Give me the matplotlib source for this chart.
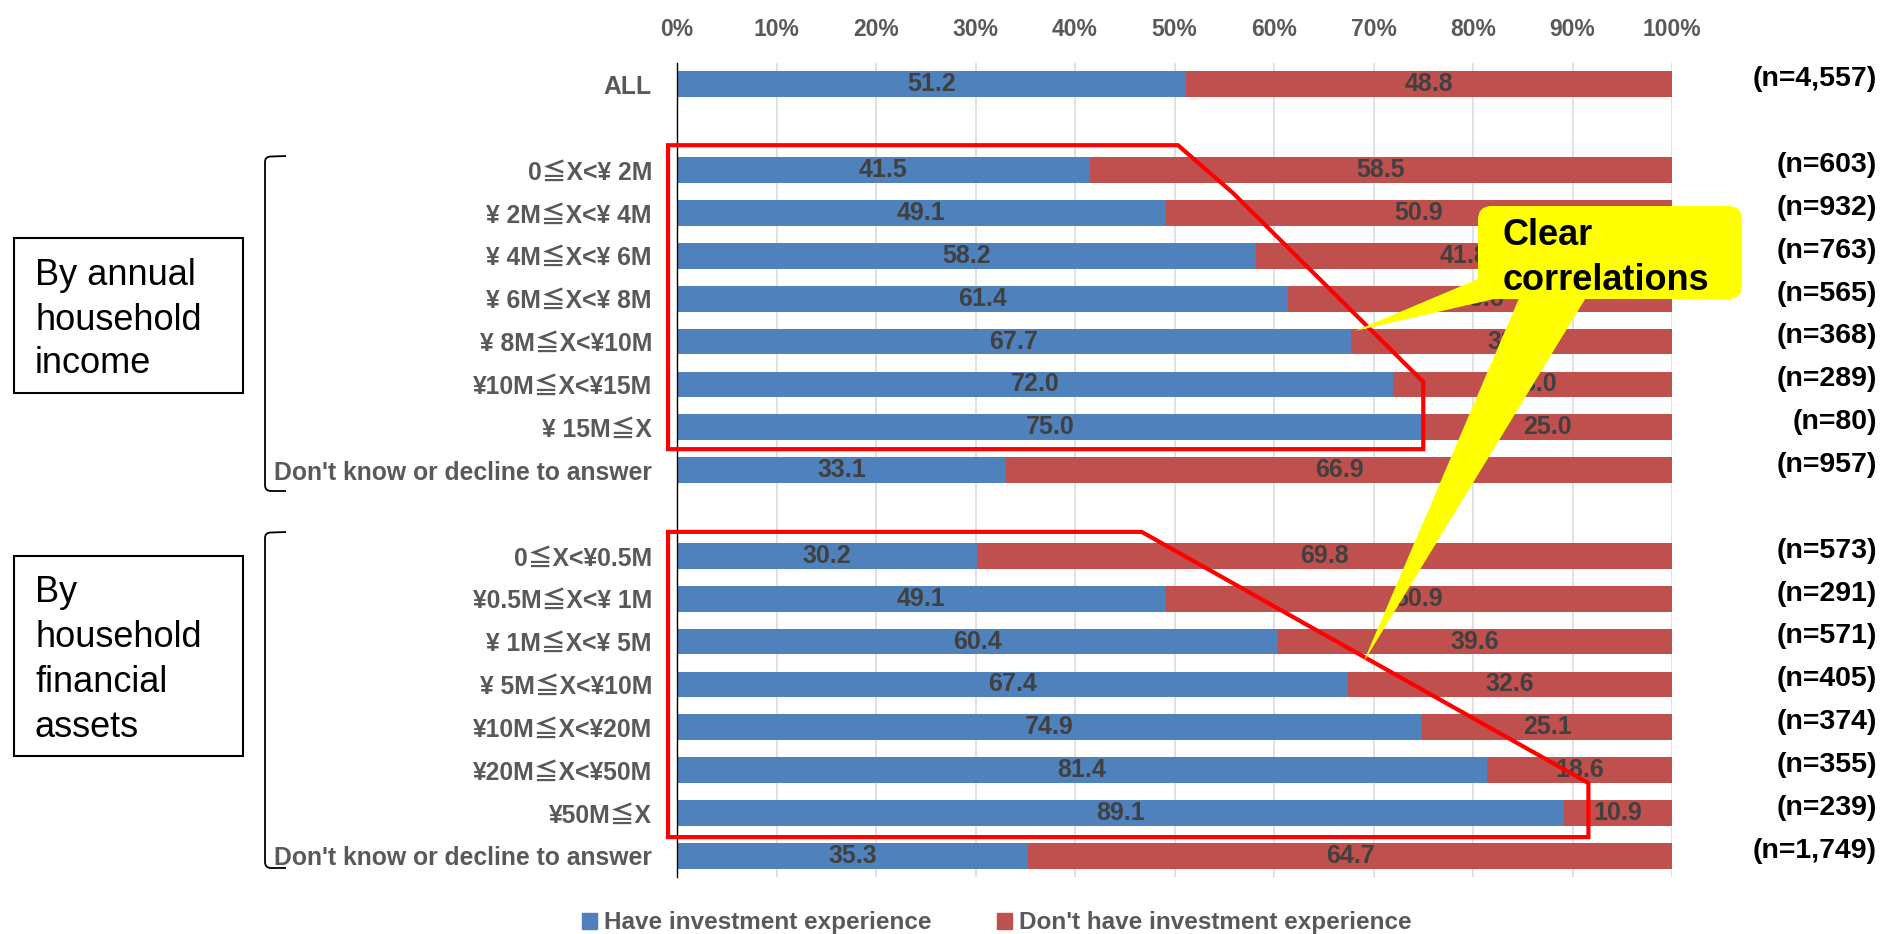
import matplotlib
matplotlib.use("Agg")
import matplotlib.pyplot as plt
import numpy as np
from matplotlib.patches import Patch, Polygon, FancyBboxPatch, PathPatch, Rectangle
from matplotlib.path import Path
from matplotlib.transforms import Affine2D, blended_transform_factory

# ---------------- data ----------------
categories = [
    "ALL", "",
    "0≦X<¥ 2M", "¥ 2M≦X<¥ 4M", "¥ 4M≦X<¥ 6M", "¥ 6M≦X<¥ 8M",
    "¥ 8M≦X<¥10M", "¥10M≦X<¥15M", "¥ 15M≦X", "Don't know or decline to answer",
    "",
    "0≦X<¥0.5M", "¥0.5M≦X<¥ 1M", "¥ 1M≦X<¥ 5M", "¥ 5M≦X<¥10M",
    "¥10M≦X<¥20M", "¥20M≦X<¥50M", "¥50M≦X", "Don't know or decline to answer",
]
have = [51.2, None, 41.5, 49.1, 58.2, 61.4, 67.7, 72.0, 75.0, 33.1,
        None, 30.2, 49.1, 60.4, 67.4, 74.9, 81.4, 89.1, 35.3]
dont = [48.8, None, 58.5, 50.9, 41.8, 38.6, 32.3, 28.0, 25.0, 66.9,
        None, 69.8, 50.9, 39.6, 32.6, 25.1, 18.6, 10.9, 64.7]
n_labels = ["(n=4,557)", "", "(n=603)", "(n=932)", "(n=763)", "(n=565)",
            "(n=368)", "(n=289)", "(n=80)", "(n=957)", "",
            "(n=573)", "(n=291)", "(n=571)", "(n=405)", "(n=374)",
            "(n=355)", "(n=239)", "(n=1,749)"]
ticks = [0, 10, 20, 30, 40, 50, 60, 70, 80, 90, 100]
tick_labels = [f"{t}%" for t in ticks]
series_names = ["Have investment experience", "Don't have investment experience"]

# outlines drawn around groups (x in %, y in row units)
income_outline = [(-0.9, 1.42), (50.35, 1.42), (55.9, 2.54), (75.0, 6.94),
                  (75.0, 8.51), (-0.9, 8.51)]
assets_outline = [(-0.9, 10.44), (46.7, 10.44), (91.6, 16.3), (91.6, 17.56),
                  (-0.9, 17.56)]

# ---------------- style ----------------
BLUE = "#4F81BD"
RED = "#C0504D"
GRAY = "#595959"
DARK = "#404040"
FONT = ["Liberation Sans", "Noto Sans CJK JP", "DejaVu Sans"]
plt.rcParams["font.family"] = FONT

W, H = 1888, 934
fig = plt.figure(figsize=(W / 100, H / 100), dpi=100)
PX = Affine2D().scale(1 / W, -1 / H).translate(0, 1) + fig.transFigure

ax = fig.add_axes([677 / W, 1 - 877.4 / H, 995 / W, 814.5 / H])

rows = np.arange(len(categories))
vr = [i for i in rows if have[i] is not None]
hv = np.array([have[i] for i in vr])
dv = np.array([dont[i] for i in vr])

ax.barh(vr, hv, height=0.6, color=BLUE, zorder=2)
ax.barh(vr, dv, left=hv, height=0.6, color=RED, zorder=2)

for r, h, d in zip(vr, hv, dv):
    ax.text(h / 2, r, f"{h:.1f}", ha="center", va="center", fontsize=18,
            fontweight="bold", color=DARK, zorder=3)
    ax.text(h + d / 2, r, f"{d:.1f}", ha="center", va="center", fontsize=18,
            fontweight="bold", color=DARK, zorder=3)

ax.set_xlim(0, 100)
ax.set_ylim(18.5, -0.5)
ax.set_xticks(ticks)
ax.set_xticklabels(tick_labels)
ax.xaxis.tick_top()
ax.tick_params(axis="x", length=0, pad=16, labelsize=16.5, labelcolor=GRAY)
for lbl in ax.get_xticklabels():
    lbl.set_fontweight("bold")
ax.set_yticks(rows)
ax.set_yticklabels(categories)
ax.tick_params(axis="y", length=0, pad=18, labelsize=17.8, labelcolor=GRAY)
for lbl in ax.get_yticklabels():
    lbl.set_fontweight("bold")
ax.grid(axis="x", color="#D9D9D9", lw=1.1, zorder=0)
ax.set_axisbelow(True)
for s in ["top", "right", "bottom"]:
    ax.spines[s].set_visible(False)
ax.spines["left"].set_color("black")
ax.spines["left"].set_linewidth(1.0)

# n labels
btr = blended_transform_factory(PX, ax.transData)
for r, lab in zip(rows, n_labels):
    if lab:
        ax.text(1877, r - 0.12, lab, transform=btr, ha="right", va="center",
                fontsize=20.5, fontweight="bold", color="black", clip_on=False)

# red outlines
for poly in (income_outline, assets_outline):
    ax.add_patch(Polygon(poly, closed=True, fill=False, edgecolor="#FF0000",
                         lw=3, clip_on=False, zorder=4, joinstyle="miter"))

# callout
ax.add_patch(Polygon([(1478, 279), (1355, 331), (1494, 299)], closed=True,
                     facecolor="#FFFF00", edgecolor="none", transform=PX,
                     clip_on=False, zorder=6))
ax.add_patch(Polygon([(1520, 296), (1363, 663), (1587, 296)], closed=True,
                     facecolor="#FFFF00", edgecolor="none", transform=PX,
                     clip_on=False, zorder=6))
ax.add_patch(FancyBboxPatch((1478, 206), 264, 93,
                            boxstyle="round,pad=0,rounding_size=14",
                            facecolor="#FFFF00", edgecolor="none", transform=PX,
                            clip_on=False, zorder=6))
ax.text(1503, 245, "Clear", transform=PX, fontsize=26, fontweight="bold",
        va="baseline", ha="left", color="black", zorder=7, clip_on=False)
ax.text(1503, 290, "correlations", transform=PX, fontsize=26, fontweight="bold",
        va="baseline", ha="left", color="black", zorder=7, clip_on=False)

# group boxes
fig.add_artist(Rectangle((14, 238), 229, 155, fill=False, edgecolor="black",
                         lw=1.5, transform=PX))
for txt, y in zip(["By annual", "household", "income"], [285, 330, 373]):
    fig.text(35, y, txt, transform=PX, fontsize=26, va="baseline", ha="left")
fig.add_artist(Rectangle((14, 556), 229, 200, fill=False, edgecolor="black",
                         lw=1.5, transform=PX))
for txt, y in zip(["By", "household", "financial", "assets"], [602, 647, 692, 737]):
    fig.text(35, y, txt, transform=PX, fontsize=26, va="baseline", ha="left")

# brackets
def bracket(y0, y1):
    verts = [(286, y0), (271, y0 + 0.5), (265, y0 + 0.5), (265, y0 + 6),
             (265, y1 - 6), (265, y1), (271, y1), (286, y1)]
    codes = [Path.MOVETO, Path.LINETO, Path.CURVE3, Path.CURVE3,
             Path.LINETO, Path.CURVE3, Path.CURVE3, Path.LINETO]
    fig.add_artist(PathPatch(Path(verts, codes), fill=False, edgecolor="black",
                             lw=1.3, transform=PX))

bracket(156, 491)
bracket(532, 868)

# legend
fig.legend(handles=[Patch(color=BLUE), Patch(color=RED)], labels=series_names,
           loc="center", bbox_to_anchor=(997 / W, 1 - 923 / H), ncol=2,
           frameon=False, prop={"family": FONT, "weight": "bold", "size": 17.5},
           handlelength=0.6, handleheight=0.6, handletextpad=0.3,
           columnspacing=2.7, labelcolor=GRAY, borderpad=0, borderaxespad=0)

fig.savefig("out.png", dpi=100)
